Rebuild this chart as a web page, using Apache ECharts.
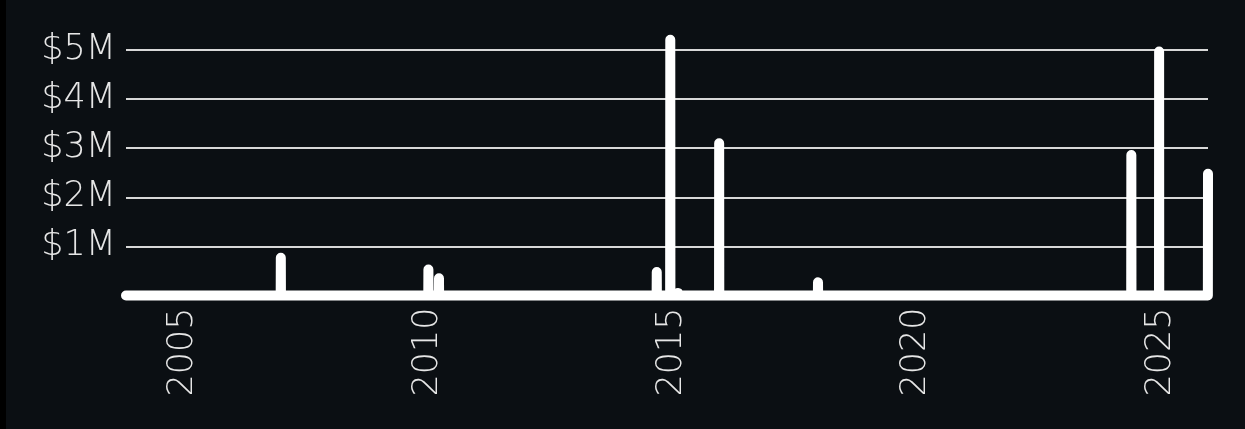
<!DOCTYPE html>
<html>
<head>
<meta charset="utf-8">
<script src="https://cdn.jsdelivr.net/npm/echarts@6/dist/echarts.min.js"></script>
<style>
html,body{margin:0;padding:0;background:#000;}
#chart{position:absolute;left:6px;top:0;width:1239px;height:429px;background:#0b0f13;}
</style>
</head>
<body>
<div id="chart"></div>
<script>
// Range of the series (value 0 outside the events)
var rangeStart = '2003-11-01';
var rangeEnd = '2025-12-20';
// Event dates and amounts (USD)
var eventDates = ['2007-01-01','2010-01-08','2010-03-28','2014-09-10','2014-12-20','2015-02-15','2015-12-20','2017-12-28','2024-05-26','2024-12-20','2025-12-20'];
var eventValues = [770000,530000,350000,480000,5210000,50000,3100000,270000,2860000,4970000,2480000];
// Tick labels
var tickYears = [2005,2010,2015,2020,2025];

// date string -> fractional year
function fy(s){
  var p=s.split('-'); var y=+p[0];
  var t=Date.UTC(y,+p[1]-1,+p[2]), a=Date.UTC(y,0,1), b=Date.UTC(y+1,0,1);
  return y+(t-a)/(b-a);
}
var DAY = 1/365.25;
var endX = fy(rangeEnd);
var data = [[fy(rangeStart),0]];
eventDates.forEach(function(d,i){
  var x = fy(d);
  data.push([x-DAY,0]);
  data.push([x,eventValues[i]]);
  if (x < endX) data.push([x+DAY,0]);
});
if (fy(eventDates[eventDates.length-1]) < endX) data.push([endX,0]);

var font = {fontFamily:'DejaVu Sans', fontWeight:200, fontSize:35, color:'#e6e6e6'};
var chart = echarts.init(document.getElementById('chart'));
chart.setOption({
  backgroundColor:'#0b0f13',
  animation:false,
  grid:{left:120,right:37,top:50,bottom:133.5},
  xAxis:{
    type:'value',
    min:fy(rangeStart), max:endX,
    axisLine:{show:false},
    axisTick:{show:false},
    splitLine:{show:false},
    axisLabel:Object.assign({
      rotate:90, margin:12,
      customValues:tickYears,
      formatter:function(v){return String(Math.round(v));}
    },font)
  },
  yAxis:{
    type:'value', min:0, max:5000000, interval:1000000,
    axisLine:{show:false}, axisTick:{show:false},
    splitLine:{lineStyle:{color:'#d8d8d8',width:2}},
    axisLabel:Object.assign({
      margin:10,
      formatter:function(v){return v===0?'':'$'+(v/1000000)+'M';}
    },font)
  },
  series:[{
    type:'line', data:data, showSymbol:false, symbol:'none', clip:false,
    lineStyle:{color:'#ffffff',width:10,cap:'round',join:'round'}
  }]
});
</script>
</body>
</html>
